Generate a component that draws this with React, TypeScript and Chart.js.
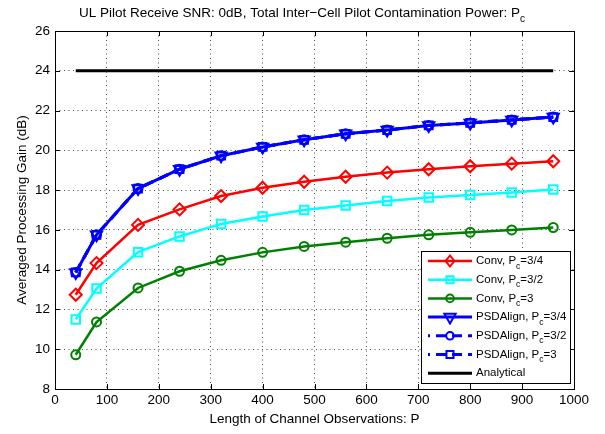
import React, { useEffect, useRef } from 'react';
import { Chart, registerables } from 'chart.js';

Chart.register(...registerables);

// ---- data ----
const observationLengths = [40, 80, 160, 240, 320, 400, 480, 560, 640, 720, 800, 880, 960];
const convPc34 = [12.74, 14.33, 16.25, 17.03, 17.7, 18.12, 18.42, 18.67, 18.88, 19.05, 19.2, 19.33, 19.45];
const convPc32 = [11.5, 13.05, 14.88, 15.67, 16.3, 16.67, 17.0, 17.23, 17.45, 17.63, 17.75, 17.88, 18.03];
const convPc3 = [9.72, 11.37, 13.08, 13.92, 14.47, 14.87, 15.17, 15.38, 15.58, 15.75, 15.88, 16.0, 16.12];
const psdAlignPc34 = [13.86, 15.75, 18.08, 19.05, 19.73, 20.17, 20.53, 20.83, 21.02, 21.25, 21.38, 21.53, 21.67];
const psdAlignPc32 = [13.86, 15.75, 18.08, 19.05, 19.73, 20.17, 20.53, 20.83, 21.02, 21.25, 21.38, 21.53, 21.67];
const psdAlignPc3 = [13.86, 15.75, 18.08, 19.05, 19.73, 20.17, 20.53, 20.83, 21.02, 21.25, 21.38, 21.53, 21.67];
const analyticalX = [40, 960];
const analyticalGain = [24, 24];
const xTickValues = [0, 100, 200, 300, 400, 500, 600, 700, 800, 900, 1000];
const yTickValues = [8, 10, 12, 14, 16, 18, 20, 22, 24, 26];

const titleMain = 'UL Pilot Receive SNR: 0dB, Total Inter\u2212Cell Pilot Contamination Power: P';
const titleSub = 'c';
const xLabel = 'Length of Channel Observations: P';
const yLabel = 'Averaged Processing Gain (dB)';

const FONT = '"Liberation Sans", Arial, Helvetica, sans-serif';

type Series = {
  pre: string;
  sub: string;
  post: string;
  xs: number[];
  ys: number[];
  color: string;
  marker: string; // diamond, square, circle, triDown, none
  dash: number[];
  radius: number;
  legendRadius: number;
  width: number;
};

const series: Series[] = [
  { pre: 'Conv, P', sub: 'c', post: '=3/4', xs: observationLengths, ys: convPc34, color: '#ff0000', marker: 'diamond', dash: [], radius: 6, legendRadius: 5.5, width: 2.5 },
  { pre: 'Conv, P', sub: 'c', post: '=3/2', xs: observationLengths, ys: convPc32, color: '#00ffff', marker: 'square', dash: [], radius: 6, legendRadius: 5, width: 2.5 },
  { pre: 'Conv, P', sub: 'c', post: '=3', xs: observationLengths, ys: convPc3, color: '#008000', marker: 'circle', dash: [], radius: 4.5, legendRadius: 3.8, width: 2.5 },
  { pre: 'PSDAlign, P', sub: 'c', post: '=3/4', xs: observationLengths, ys: psdAlignPc34, color: '#0000ff', marker: 'triDown', dash: [], radius: 6.5, legendRadius: 6.5, width: 3 },
  { pre: 'PSDAlign, P', sub: 'c', post: '=3/2', xs: observationLengths, ys: psdAlignPc32, color: '#0000ff', marker: 'circle', dash: [10, 6], radius: 4.5, legendRadius: 3.8, width: 3 },
  { pre: 'PSDAlign, P', sub: 'c', post: '=3', xs: observationLengths, ys: psdAlignPc3, color: '#0000ff', marker: 'square', dash: [10, 6], radius: 5.5, legendRadius: 5, width: 3 },
  { pre: 'Analytical', sub: '', post: '', xs: analyticalX, ys: analyticalGain, color: '#000000', marker: 'none', dash: [], radius: 0, legendRadius: 0, width: 3 },
];

function chartPointStyle(m: string) {
  if (m === 'diamond') return 'rectRot';
  if (m === 'square') return 'rect';
  if (m === 'circle') return 'circle';
  if (m === 'triDown') return 'triangle';
  return false;
}

function drawMarker(ctx: CanvasRenderingContext2D, m: string, x: number, y: number, r: number, color: string) {
  ctx.save();
  ctx.strokeStyle = color;
  ctx.lineWidth = 2;
  ctx.setLineDash([]);
  ctx.beginPath();
  if (m === 'diamond') {
    ctx.moveTo(x, y - r); ctx.lineTo(x + r * 0.8, y); ctx.lineTo(x, y + r); ctx.lineTo(x - r * 0.8, y); ctx.closePath();
  } else if (m === 'square') {
    const s = r * Math.SQRT1_2;
    ctx.rect(x - s, y - s, 2 * s, 2 * s);
  } else if (m === 'circle') {
    ctx.arc(x, y, r, 0, Math.PI * 2);
  } else if (m === 'triDown') {
    const h = r;
    ctx.moveTo(x, y + h);
    ctx.lineTo(x + h * 0.866, y - h * 0.5);
    ctx.lineTo(x - h * 0.866, y - h * 0.5);
    ctx.closePath();
  }
  ctx.stroke();
  ctx.restore();
}

function drawSubText(ctx: CanvasRenderingContext2D, pre: string, sub: string, post: string, x: number, y: number, size: number, align: 'left' | 'center') {
  ctx.font = `${size}px ${FONT}`;
  const w1 = ctx.measureText(pre).width;
  ctx.font = `${size * 0.75}px ${FONT}`;
  const w2 = sub ? ctx.measureText(sub).width : 0;
  ctx.font = `${size}px ${FONT}`;
  const w3 = ctx.measureText(post).width;
  let sx = x;
  if (align === 'center') sx = x - (w1 + w2 + w3) / 2;
  ctx.textAlign = 'left';
  ctx.textBaseline = 'middle';
  ctx.fillStyle = '#000';
  ctx.fillText(pre, sx, y);
  if (sub) {
    ctx.font = `${size * 0.75}px ${FONT}`;
    ctx.fillText(sub, sx + w1, y + size * 0.45);
  }
  ctx.font = `${size}px ${FONT}`;
  ctx.fillText(post, sx + w1 + w2, y);
}

const framePlugin = {
  id: 'matlabFrame',
  beforeDraw(chart: any) {
    const ctx = chart.ctx;
    ctx.save();
    ctx.fillStyle = '#fff';
    ctx.fillRect(0, 0, chart.width, chart.height);
    ctx.restore();
  },
  afterDraw(chart: any) {
    const ctx: CanvasRenderingContext2D = chart.ctx;
    const { left, right, top, bottom } = chart.chartArea;
    const xs = chart.scales.x;
    const ys = chart.scales.y;
    ctx.save();
    ctx.strokeStyle = '#000';
    ctx.lineWidth = 1;
    ctx.setLineDash([]);
    // inward ticks
    const tl = 5;
    ctx.beginPath();
    xTickValues.forEach((v) => {
      const px = Math.round(xs.getPixelForValue(v)) + 0.5;
      ctx.moveTo(px, bottom); ctx.lineTo(px, bottom - tl);
      ctx.moveTo(px, top); ctx.lineTo(px, top + tl);
    });
    yTickValues.forEach((v) => {
      const py = Math.round(ys.getPixelForValue(v)) + 0.5;
      ctx.moveTo(left, py); ctx.lineTo(left + tl, py);
      ctx.moveTo(right, py); ctx.lineTo(right - tl, py);
    });
    ctx.stroke();
    // box
    ctx.strokeRect(Math.round(left) + 0.5, Math.round(top) + 0.5, Math.round(right - left), Math.round(bottom - top));

    // title
    drawSubText(ctx, titleMain, titleSub, '', 302, 13, 13.5, 'center');

    // axis labels
    ctx.font = `13.5px ${FONT}`;
    ctx.fillStyle = '#000';
    ctx.textAlign = 'center';
    ctx.textBaseline = 'middle';
    ctx.fillText(xLabel, (left + right) / 2, 419);
    ctx.save();
    ctx.translate(22, (top + bottom) / 2);
    ctx.rotate(-Math.PI / 2);
    ctx.fillText(yLabel, 0, 0);
    ctx.restore();

    // legend
    const lx0 = 421, ly0 = 251, lx1 = 570, ly1 = 383;
    ctx.fillStyle = '#fff';
    ctx.fillRect(lx0, ly0, lx1 - lx0, ly1 - ly0);
    ctx.strokeStyle = '#000';
    ctx.lineWidth = 1;
    ctx.strokeRect(lx0 + 0.5, ly0 + 0.5, lx1 - lx0, ly1 - ly0);
    series.forEach((s, i) => {
      const yy = 261 + i * 18.7;
      ctx.save();
      ctx.strokeStyle = s.color;
      ctx.lineWidth = s.width;
      ctx.setLineDash(s.dash);
      ctx.lineDashOffset = s.dash.length ? 8 : 0;
      ctx.beginPath();
      ctx.moveTo(428, yy);
      ctx.lineTo(472, yy);
      ctx.stroke();
      ctx.restore();
      if (s.marker !== 'none') drawMarker(ctx, s.marker, 450, yy, s.legendRadius, s.color);
      drawSubText(ctx, s.pre, s.sub, s.post, 476, yy, 11.5, 'left');
    });
    ctx.restore();
  },
};

export default function App() {
  const canvasRef = useRef<HTMLCanvasElement | null>(null);

  useEffect(() => {
    document.body.style.margin = '0';
    const canvas = canvasRef.current;
    if (!canvas) return;
    const datasets = series.map((s, i) => ({
      label: s.pre + s.sub + s.post,
      data: s.xs.map((x, k) => ({ x, y: s.ys[k] })),
      borderColor: s.color,
      backgroundColor: 'rgba(0,0,0,0)',
      borderWidth: s.width,
      borderDash: s.dash,
      pointStyle: chartPointStyle(s.marker) as any,
      pointRadius: s.radius,
      pointRotation: s.marker === 'triDown' ? 180 : 0,
      pointBorderColor: s.color,
      pointBackgroundColor: 'rgba(0,0,0,0)',
      pointBorderWidth: 2,
      tension: 0,
      order: series.length - i,
    }));

    const chart = new Chart(canvas, {
      type: 'line',
      data: { datasets },
      options: {
        animation: false,
        responsive: false,
        devicePixelRatio: 1,
        layout: { padding: { top: 31, right: 31, left: 0, bottom: 0 } },
        plugins: {
          legend: { display: false },
          title: { display: false },
          tooltip: { enabled: false },
        },
        scales: {
          x: {
            type: 'linear',
            min: 0,
            max: 1000,
            afterFit: (s: any) => { s.height = 45; },
            afterBuildTicks: (s: any) => { s.ticks = xTickValues.map((v) => ({ value: v })); },
            ticks: { color: '#000', font: { family: FONT, size: 13.5 }, padding: 3, maxRotation: 0, autoSkip: false, callback: (v: any) => String(v) },
            grid: { color: 'rgba(0,0,0,0.7)', lineWidth: 1, drawTicks: false },
            border: { display: false, dash: [1, 3.5] },
          },
          y: {
            type: 'linear',
            min: 8,
            max: 26,
            afterFit: (s: any) => { s.width = 55; },
            afterBuildTicks: (s: any) => { s.ticks = yTickValues.map((v) => ({ value: v })); },
            ticks: { color: '#000', font: { family: FONT, size: 13.5 }, padding: 5, autoSkip: false, callback: (v: any) => String(v) },
            grid: { color: 'rgba(0,0,0,0.7)', lineWidth: 1, drawTicks: false },
            border: { display: false, dash: [1, 3.5] },
          },
        },
      },
      plugins: [framePlugin],
    });
    return () => chart.destroy();
  }, []);

  return (
    <div style={{ width: 605, height: 434, position: 'relative' }}>
      <canvas ref={canvasRef} width={605} height={434} style={{ width: 605, height: 434, display: 'block' }} />
    </div>
  );
}
